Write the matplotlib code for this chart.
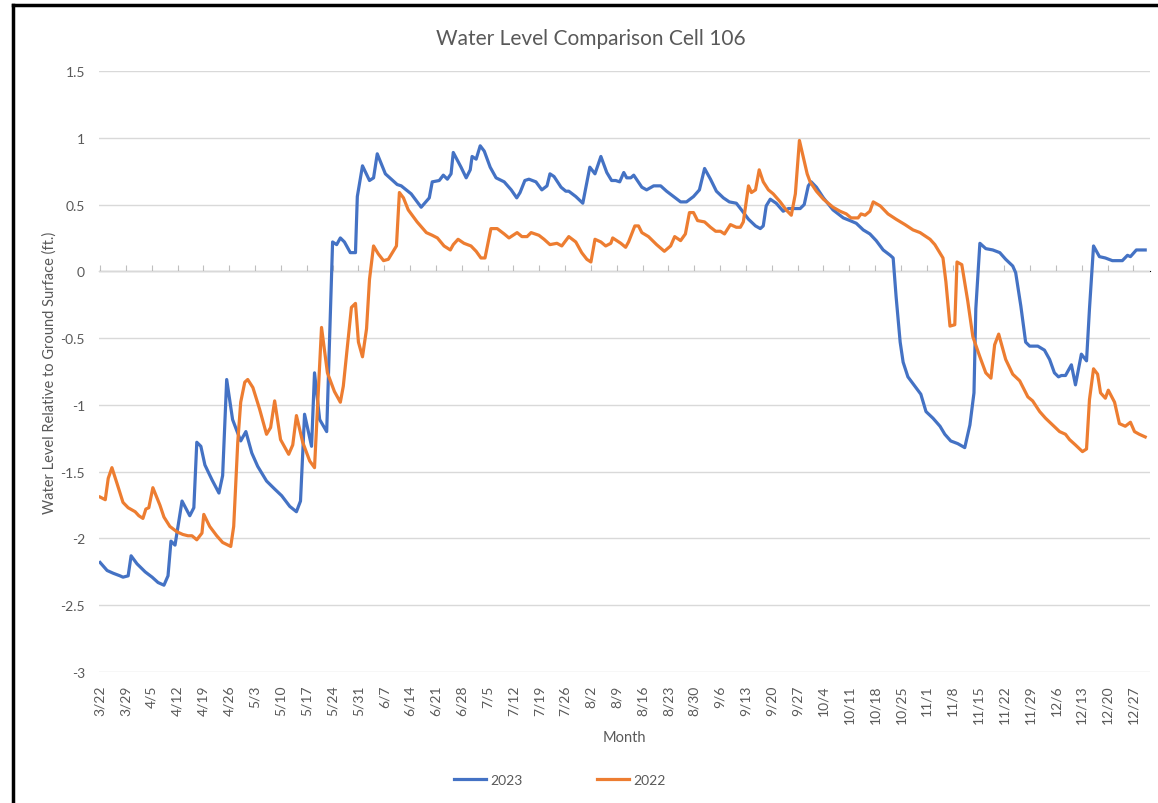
import matplotlib
matplotlib.use('Agg')
import matplotlib.pyplot as plt
from matplotlib.lines import Line2D
import numpy as np

# days after 3/22
day_2023 = [0, 1.9, 3.5, 5.4, 6.2, 7.6, 8.4, 10.0, 12.2, 14.1, 15.7, 17.3, 18.4, 19.2, 20.3,
            22.2, 24.3, 25.4, 26.2, 27.3, 28.4, 30.3, 32.2, 33.2, 34.3, 35.9, 38.1, 39.5,
            41.1, 42.7, 45.1, 47.3, 49.2, 51.4, 53.2, 54.3, 55.4, 57.3, 58.1, 59.5, 61.4,
            63.0, 64.1, 65.1, 66.2, 67.8, 69.2, 69.7, 71.1, 73.0, 74.1, 75.1, 77.3, 78.9,
            80.5, 81.6, 84.3, 87.0, 89.2, 90.0, 91.9, 93.0, 94.1, 95.1, 95.7, 97.8, 99.2,
            100.3, 100.8, 101.9, 103.0, 104.1, 105.7, 107.3, 109.5, 111.4, 112.9, 113.8,
            115.1, 116.2, 118.1, 119.7, 121.1, 121.9, 123.0, 124.9, 126.2, 127.0, 128.9,
            130.8, 132.7, 134.1, 135.7, 137.3, 138.6, 139.7, 140.8, 141.9, 142.7, 143.8,
            144.6, 146.8, 148.1, 150.0, 151.9, 153.5, 155.4, 157.3, 158.9, 160.8, 162.4,
            163.8, 165.4, 167.0, 168.9, 170.5, 172.4, 173.8, 175.7, 177.6, 178.9, 179.7,
            180.5, 181.6, 183.2, 185.1, 186.5, 187.8, 189.7, 190.8, 191.9, 192.7, 194.1,
            196.0, 198.6, 201.4, 203.2, 204.9, 206.8, 208.6, 210.3, 212.2, 214.1, 214.9,
            215.7, 216.8, 217.6, 218.9, 220.8, 222.4, 223.8, 225.7, 227.6, 228.9, 230.5,
            232.4, 234.3, 235.7, 236.8, 237.3, 238.4, 240.0, 241.9, 243.8, 245.4, 247.3,
            248.1, 249.5, 250.8, 251.9, 254.1, 255.9, 257.3, 258.6, 259.7, 260.5, 261.6,
            263.2, 264.3, 265.9, 267.3, 268.1, 269.2, 270.8, 272.4, 274.3, 277.0, 278.4,
            279.2, 280.8, 283.2]
level_2023 = [-2.18, -2.24, -2.26, -2.28, -2.29, -2.28, -2.13, -2.19, -2.25, -2.29, -2.33,
              -2.35, -2.28, -2.02, -2.05, -1.72, -1.83, -1.77, -1.28, -1.31, -1.45, -1.56,
              -1.66, -1.53, -0.81, -1.11, -1.27, -1.20, -1.36, -1.46, -1.57, -1.63, -1.68,
              -1.76, -1.80, -1.72, -1.07, -1.31, -0.76, -1.11, -1.20, 0.22, 0.20, 0.25, 0.22,
              0.14, 0.14, 0.56, 0.79, 0.68, 0.70, 0.88, 0.73, 0.69, 0.65, 0.64, 0.58, 0.48,
              0.55, 0.67, 0.68, 0.72, 0.69, 0.73, 0.89, 0.78, 0.70, 0.76, 0.86, 0.84, 0.94,
              0.90, 0.78, 0.70, 0.67, 0.61, 0.55, 0.59, 0.68, 0.69, 0.67, 0.61, 0.64, 0.73,
              0.71, 0.63, 0.60, 0.60, 0.56, 0.51, 0.78, 0.73, 0.86, 0.74, 0.68, 0.68, 0.67,
              0.74, 0.70, 0.70, 0.72, 0.63, 0.61, 0.64, 0.64, 0.60, 0.56, 0.52, 0.52, 0.56,
              0.61, 0.77, 0.69, 0.60, 0.55, 0.52, 0.51, 0.46, 0.39, 0.34, 0.32, 0.34, 0.49,
              0.54, 0.51, 0.45, 0.47, 0.47, 0.47, 0.50, 0.64, 0.67, 0.63, 0.55, 0.46, 0.40,
              0.38, 0.36, 0.31, 0.28, 0.23, 0.16, 0.12, 0.10, -0.19, -0.53, -0.68, -0.79,
              -0.86, -0.92, -1.05, -1.10, -1.16, -1.22, -1.27, -1.29, -1.32, -1.15, -0.91,
              -0.28, 0.21, 0.17, 0.16, 0.14, 0.09, 0.04, -0.01, -0.26, -0.53, -0.56, -0.56,
              -0.59, -0.66, -0.76, -0.79, -0.78, -0.78, -0.70, -0.85, -0.62, -0.67, -0.28,
              0.19, 0.11, 0.10, 0.08, 0.08, 0.12, 0.11, 0.16, 0.16]

day_2022 = [0, 1.4, 2.2, 3.2, 4.6, 6.2, 7.6, 9.5, 10.5, 11.6, 12.4, 13.2, 14.3, 16.2, 17.3,
            18.9, 20.8, 22.4, 23.8, 24.9, 26.2, 27.6, 28.1, 29.7, 31.6, 33.2, 35.4, 36.2,
            37.3, 38.1, 39.2, 40.0, 41.4, 43.2, 45.1, 46.2, 47.3, 48.9, 51.1, 52.2, 53.2,
            54.9, 56.8, 58.1, 60.0, 61.6, 63.5, 65.1, 65.9, 68.1, 69.2, 70.0, 71.1, 72.2,
            73.0, 74.1, 75.4, 76.8, 78.1, 79.2, 80.3, 81.1, 82.2, 83.5, 85.9, 88.4, 90.0,
            91.4, 93.2, 94.9, 95.7, 97.0, 98.6, 100.5, 101.9, 103.2, 104.3, 105.9, 107.6,
            109.5, 110.8, 113.0, 114.3, 115.7, 116.8, 118.9, 120.3, 121.9, 123.8, 125.1,
            127.0, 128.9, 130.5, 131.9, 133.0, 134.1, 135.7, 137.0, 138.4, 138.9, 141.1,
            142.4, 143.2, 144.9, 145.9, 146.8, 148.6, 150.8, 152.9, 154.6, 155.7, 157.3,
            158.6, 159.7, 160.8, 161.9, 163.8, 165.4, 166.8, 168.1, 169.2, 170.8, 172.4,
            173.5, 174.3, 175.7, 176.5, 177.6, 178.6, 179.7, 181.1, 182.4, 184.3, 185.9,
            187.3, 188.4, 189.5, 190.5, 191.6, 192.4, 194.1, 196.0, 198.6, 200.5, 202.2,
            203.5, 205.4, 206.2, 207.3, 208.6, 209.5, 211.4, 213.5, 215.7, 218.1, 220.3,
            222.2, 224.9, 226.2, 228.4, 229.2, 230.3, 231.6, 232.2, 233.5, 235.1, 236.5,
            238.4, 240.0, 241.4, 242.4, 243.5, 245.4, 247.3, 249.2, 251.4, 252.7, 254.6,
            256.2, 258.1, 260.0, 261.6, 262.7, 264.3, 266.2, 267.3, 268.1, 269.2, 270.3,
            271.1, 272.4, 273.2, 274.9, 276.2, 277.8, 279.2, 280.3, 281.6, 283.2]
level_2022 = [-1.69, -1.71, -1.55, -1.47, -1.59, -1.73, -1.77, -1.80, -1.83, -1.85, -1.78,
              -1.77, -1.62, -1.75, -1.84, -1.91, -1.95, -1.97, -1.98, -1.98, -2.01, -1.96,
              -1.82, -1.91, -1.98, -2.03, -2.06, -1.91, -1.28, -0.98, -0.83, -0.81, -0.87,
              -1.03, -1.22, -1.17, -0.97, -1.26, -1.37, -1.30, -1.08, -1.28, -1.42, -1.47,
              -0.42, -0.76, -0.90, -0.98, -0.86, -0.27, -0.24, -0.53, -0.64, -0.43, -0.06,
              0.19, 0.13, 0.08, 0.09, 0.14, 0.19, 0.59, 0.55, 0.46, 0.37, 0.29, 0.27, 0.25,
              0.19, 0.16, 0.20, 0.24, 0.21, 0.19, 0.15, 0.10, 0.10, 0.32, 0.32, 0.28, 0.25,
              0.29, 0.26, 0.26, 0.29, 0.27, 0.24, 0.20, 0.21, 0.19, 0.26, 0.22, 0.14, 0.09,
              0.07, 0.24, 0.22, 0.19, 0.21, 0.25, 0.21, 0.18, 0.22, 0.34, 0.34, 0.29, 0.26,
              0.20, 0.15, 0.19, 0.26, 0.23, 0.28, 0.44, 0.44, 0.38, 0.37, 0.33, 0.30, 0.30,
              0.28, 0.35, 0.33, 0.33, 0.37, 0.64, 0.59, 0.61, 0.76, 0.67, 0.61, 0.58, 0.52,
              0.46, 0.42, 0.58, 0.98, 0.86, 0.73, 0.67, 0.60, 0.54, 0.48, 0.45, 0.43, 0.40,
              0.40, 0.43, 0.42, 0.45, 0.52, 0.49, 0.43, 0.39, 0.35, 0.31, 0.29, 0.24, 0.20,
              0.10, -0.08, -0.41, -0.40, 0.07, 0.05, -0.22, -0.49, -0.64, -0.76, -0.80,
              -0.55, -0.47, -0.66, -0.77, -0.82, -0.94, -0.97, -1.05, -1.10, -1.15, -1.20,
              -1.22, -1.26, -1.30, -1.35, -1.33, -0.96, -0.73, -0.77, -0.91, -0.95, -0.89,
              -0.98, -1.14, -1.16, -1.13, -1.20, -1.22, -1.24]

tick_labels = ['3/22', '3/29', '4/5', '4/12', '4/19', '4/26', '5/3', '5/10', '5/17', '5/24',
               '5/31', '6/7', '6/14', '6/21', '6/28', '7/5', '7/12', '7/19', '7/26', '8/2',
               '8/9', '8/16', '8/23', '8/30', '9/6', '9/13', '9/20', '9/27', '10/4', '10/11',
               '10/18', '10/25', '11/1', '11/8', '11/15', '11/22', '11/29', '12/6', '12/13',
               '12/20', '12/27']
y_ticks = [1.5, 1, 0.5, 0, -0.5, -1, -1.5, -2, -2.5, -3]

plt.rcParams['font.family'] = ['Lato', 'DejaVu Sans']
grey = '#595959'

fig = plt.figure(figsize=(11.58, 8.04), dpi=100)
ax = fig.add_axes([99 / 1158, 1 - 673 / 804, 1051 / 1158, 601 / 804])

ax.plot(day_2023, level_2023, color='#4472C4', lw=2.3, label='2023', solid_joinstyle='round')
ax.plot(day_2022, level_2022, color='#ED7D31', lw=2.3, label='2022', solid_joinstyle='round')

ymin, ymax = -3, 1.5
ax.set_ylim(ymin, ymax)
ax.set_xlim(-0.3, 284.5)
ax.set_yticks(y_ticks)
ax.set_yticklabels([f'{v:g}' for v in y_ticks])
ax.grid(axis='y', color='#d9d9d9', lw=1)
ax.set_axisbelow(True)
for s in ax.spines.values():
    s.set_visible(False)
ax.tick_params(axis='y', length=0, labelsize=10, labelcolor=grey, pad=10)

ticks = np.arange(len(tick_labels)) * 7
ax.set_xticks(ticks)
ax.set_xticklabels(tick_labels, rotation=90)
ax.tick_params(axis='x', length=0, labelsize=10, labelcolor=grey, pad=9)

# horizontal axis drawn at zero
zero_ax = ax.secondary_xaxis((0 - ymin) / (ymax - ymin))
zero_ax.set_xticks(ticks)
zero_ax.set_xticklabels([])
zero_ax.tick_params(length=4, color='#bfbfbf', direction='out')
zero_ax.spines['bottom'].set_color('#262626')
zero_ax.spines['bottom'].set_linewidth(1)

ax.set_xlabel('Month', fontsize=10.5, color=grey, labelpad=5)
ax.set_ylabel('Water Level Relative to Ground Surface (ft.)', fontsize=10.5, color=grey,
              labelpad=3)
fig.text(591 / 1158, 0.952, 'Water Level Comparison Cell 106', ha='center', va='center',
         fontsize=15, color=grey)

fig.legend(loc='center', bbox_to_anchor=(560 / 1158, 1 - 781 / 804), ncol=2, frameon=False,
           fontsize=10, labelcolor=grey, handlelength=2.3, columnspacing=5.4,
           handletextpad=0.3)

# black frame around the chart
fig.add_artist(Line2D([13 / 1158, 13 / 1158], [0, 1 - 6 / 804], color='black', lw=2.5,
                      transform=fig.transFigure))
fig.add_artist(Line2D([13 / 1158, 1], [1 - 6 / 804, 1 - 6 / 804], color='black', lw=2.5,
                      transform=fig.transFigure))

fig.savefig('out.png', dpi=100)
